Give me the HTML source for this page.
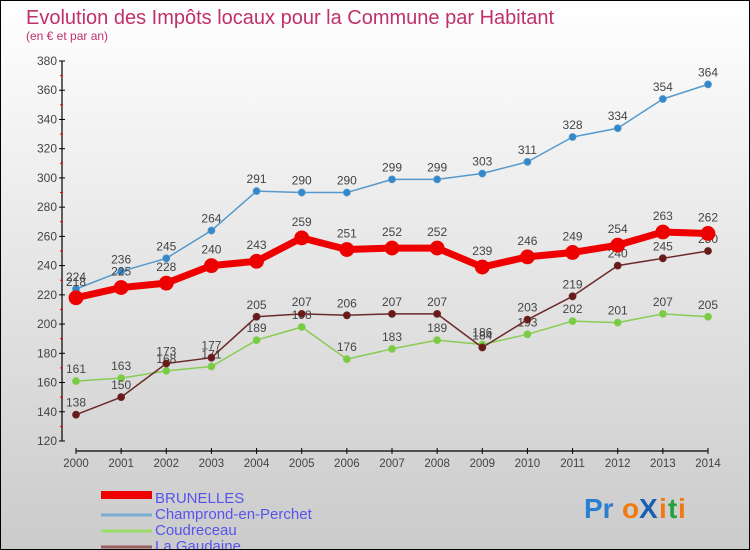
<!DOCTYPE html>
<html><head><meta charset="utf-8"><style>
html,body{margin:0;padding:0}
body{width:750px;height:550px;overflow:hidden;font-family:"Liberation Sans",sans-serif}
#wrap{position:relative;width:748px;height:548px;border:1px solid #000;background:linear-gradient(#ffffff,#cbcbcb)}
svg{position:absolute;left:0;top:0}
</style></head><body>
<div id="wrap">
<svg id="chart" width="748" height="548">
<text x="25" y="23" font-size="20" fill="#c0306a">Evolution des Impôts locaux pour la Commune par Habitant</text>
<text x="25" y="39" font-size="12" fill="#c0306a">(en € et par an)</text>
<g id="axes"></g><g id="series"></g><g id="legend"></g>
<g font-size="28" font-weight="bold" font-family="Liberation Sans, sans-serif">
<text x="583" y="517" fill="#2a7fd0">Pr</text><text x="621" y="517" fill="#f07a10">o</text><text x="638" y="517" fill="#1a5fb0">X</text><text x="658" y="517" fill="#f07a10">i</text><text x="667" y="517" fill="#2aa040">t</text><text x="677" y="517" fill="#f07a10">i</text>
</g>
</svg></div>
<script>
const years=[2000,2001,2002,2003,2004,2005,2006,2007,2008,2009,2010,2011,2012,2013,2014];
const yTicks=[120,140,160,180,200,220,240,260,280,300,320,340,360,380];
const brunelles=[218,225,228,240,243,259,251,252,252,239,246,249,254,263,262];
const champrond=[224,236,245,264,291,290,290,299,299,303,311,328,334,354,364];
const coudreceau=[161,163,168,171,189,198,176,183,189,186,193,202,201,207,205];
const gaudaine=[138,150,173,177,205,207,206,207,207,184,203,219,240,245,250];
const seriesNames=["BRUNELLES","Champrond-en-Perchet","Coudreceau","La Gaudaine"];
const NS="http://www.w3.org/2000/svg";
const x=i=>75+i*(632/14);
const y=v=>60+(380-v)*(380/260);
function mk(t,a,p){const e=document.createElementNS(NS,t);for(const k in a)e.setAttribute(k,a[k]);(p||document.getElementById('chart')).appendChild(e);return e;}
const ax=document.getElementById('axes');
let e=mk('line',{x1:61,y1:y(380),x2:61,y2:y(120),stroke:'#000','stroke-width':1.2},ax);


e=mk('line',{x1:75,y1:450,x2:707,y2:450,stroke:'#000','stroke-width':1.2},ax);


yTicks.forEach((v,i)=>{
 mk('line',{x1:58,y1:y(v),x2:64,y2:y(v),stroke:'#000'},ax);
 if(i<yTicks.length-1)mk('line',{x1:59,y1:y(v+10),x2:62,y2:y(v+10),stroke:'#e00'},ax);
 const t=mk('text',{x:56,y:y(v)+4,'font-size':12,fill:'#444','text-anchor':'end'},ax);t.textContent=v;
 
 
});
years.forEach((yr,i)=>{
 mk('line',{x1:x(i),y1:447,x2:x(i),y2:453,stroke:'#000'},ax);
 const t=mk('text',{x:x(i),y:466,'font-size':11.5,fill:'#444','text-anchor':'middle'},ax);t.textContent=yr;
 
 
});
const sg=document.getElementById('series');
function draw(data,color,dot,w,r,name,labelDy){
 const g=mk('g',{},sg);
 
 
 mk('polyline',{points:data.map((v,i)=>x(i)+','+y(v)).join(' '),fill:'none',stroke:color,'stroke-width':w,'stroke-linejoin':'round'},g);
 data.forEach((v,i)=>{
  const c=mk('circle',{cx:x(i),cy:y(v),r:r,fill:dot,stroke:color,'stroke-width':0.8},g);
  
  
  const t=mk('text',{x:x(i),y:y(v)-labelDy,'font-size':12,fill:'#444','text-anchor':'middle'},g);t.textContent=v;
  
  
 });
}
draw(coudreceau,'#88cc55','#77cc44',1.5,3.5,'coudreceau-series',8);
draw(gaudaine,'#6b2a2a','#6b1a1a',1.5,3.5,'la-gaudaine-series',8);
draw(champrond,'#5599cc','#3388cc',1.5,3.5,'champrond-series',8);
draw(brunelles,'#ee0000','#ee0000',7,7,'brunelles-series',12);
const lg=document.getElementById('legend');
const lc=['#ee0000','#7aaed0','#99dd66','#9a6060'],lw=[8,3,3,3];
seriesNames.forEach((n,i)=>{
 const yy=494+i*16;
 const gg=mk('g',{},lg);
 
 
 mk('line',{x1:100,y1:yy+(i?4:0),x2:151,y2:yy+(i?4:0),stroke:lc[i],'stroke-width':lw[i]},gg);
 const t=mk('text',{x:154,y:yy+8,'font-size':15,fill:'#5555ee'},gg);t.textContent=n;
});
</script>
</body></html>
